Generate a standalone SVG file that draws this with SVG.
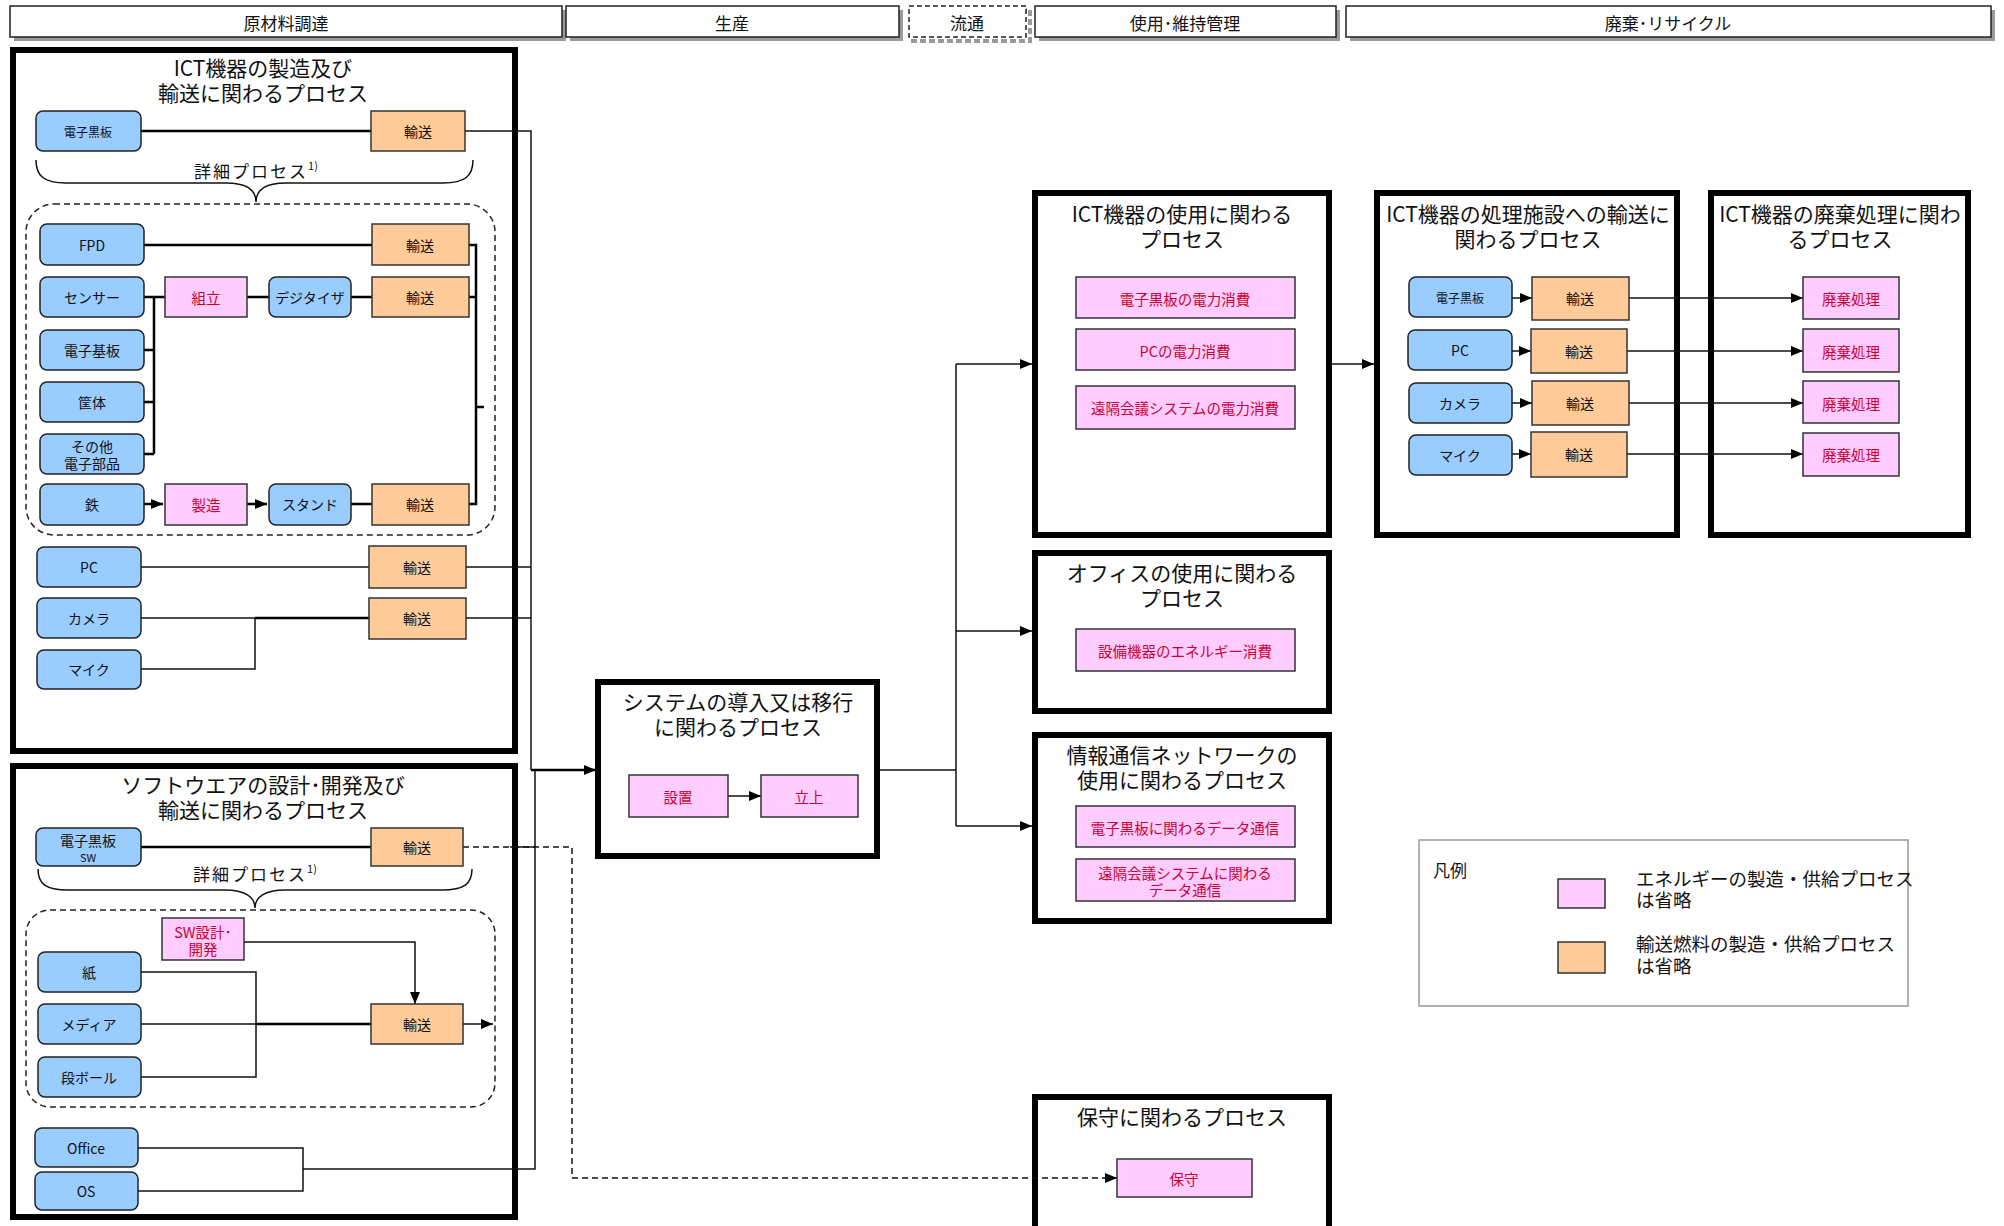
<svg xmlns="http://www.w3.org/2000/svg" width="2004" height="1226" viewBox="0 0 2004 1226">
<defs>
<style>
.t{font-family:"Noto Sans CJK JP","Noto Sans",sans-serif;text-anchor:middle;dominant-baseline:central;fill:#111}
.title{font-size:21px}
.hdrt{font-size:17px}
.lbl{font-size:14px}
.sm{font-size:12px}
.pt{font-size:14.5px;fill:#CC0033}
.lg{font-size:18.5px;text-anchor:start}
.brc{font-size:17px;letter-spacing:2px}
.blue{fill:#99CCFF;stroke:#222;stroke-width:1.5}
.orange{fill:#FFCC99;stroke:#333;stroke-width:1.5}
.pink{fill:#FFCCFF;stroke:#333;stroke-width:1.5}
.big{fill:#fff;stroke:#000;stroke-width:6}
.hdr{fill:#fff;stroke:#222;stroke-width:1.5}
.shd{fill:#9a9a9a}
.ln{stroke:#111;stroke-width:1.5;fill:none}
.lnb{stroke:#000;stroke-width:2.5;fill:none}
.dash{stroke-dasharray:6 4}
.cont{fill:none;stroke:#222;stroke-width:1.5;stroke-dasharray:6 4}
</style>
<marker id="arr" viewBox="0 0 12 10" refX="12" refY="5" markerWidth="12" markerHeight="10" markerUnits="userSpaceOnUse" orient="auto"><path d="M0,0 L12,5 L0,10 z" fill="#000"/></marker>
</defs>
<rect width="2004" height="1226" fill="#fff"/>

<!-- header -->
<g id="header">
<rect class="shd" x="14" y="10" width="552" height="31"/>
<rect class="hdr" x="10" y="6" width="552" height="31"/>
<text class="t hdrt" x="286" y="22">原材料調達</text>
<rect class="shd" x="570" y="10" width="333" height="31"/>
<rect class="hdr" x="566" y="6" width="333" height="31"/>
<text class="t hdrt" x="732" y="22">生産</text>
<rect x="913" y="10" width="117" height="31" fill="none" stroke="#9a9a9a" stroke-width="4" stroke-dasharray="6 3"/>
<rect class="hdr" x="909" y="6" width="117" height="31" stroke-dasharray="5 3"/>
<text class="t hdrt" x="967" y="22">流通</text>
<rect class="shd" x="1039" y="10" width="301" height="31"/>
<rect class="hdr" x="1035" y="6" width="301" height="31"/>
<text class="t hdrt" x="1185" y="22">使用･維持管理</text>
<rect class="shd" x="1350" y="10" width="645" height="31"/>
<rect class="hdr" x="1346" y="6" width="645" height="31"/>
<text class="t hdrt" x="1668" y="22">廃棄･リサイクル</text>
</g>

<!-- big boxes -->
<g id="box-ict-manufacture">
<rect class="big" x="13" y="50" width="502" height="701"/>
<text class="t title" x="263" y="67">ICT機器の製造及び</text>
<text class="t title" x="263" y="92">輸送に関わるプロセス</text>
<path class="ln" d="M36,160 C36,176 44,183 66,183 H226 C246,183 256,190 256,202 C256,190 266,183 286,183 H443 C465,183 473,176 473,160"/>
<text class="t brc" x="256" y="170">詳細プロセス<tspan font-size="11" letter-spacing="0" dy="-5">1)</tspan></text>
<rect class="cont" x="26" y="204" width="469" height="331" rx="28"/>
</g>
<g id="box-software">
<rect class="big" x="13" y="766" width="502" height="451"/>
<text class="t title" x="263" y="784">ソフトウエアの設計･開発及び</text>
<text class="t title" x="263" y="809">輸送に関わるプロセス</text>
<path class="ln" d="M38,869 C38,884 46,890 68,890 H225 C245,890 255,897 255,908 C255,897 265,890 285,890 H442 C464,890 472,884 472,869"/>
<text class="t brc" x="255" y="873">詳細プロセス<tspan font-size="11" letter-spacing="0" dy="-5">1)</tspan></text>
<rect class="cont" x="26" y="910" width="469" height="197" rx="24"/>
</g>
<g id="box-system">
<rect class="big" x="598" y="682" width="279" height="174"/>
<text class="t title" x="738" y="701">システムの導入又は移行</text>
<text class="t title" x="738" y="726">に関わるプロセス</text>
</g>
<g id="box-ict-use">
<rect class="big" x="1035" y="193" width="294" height="342"/>
<text class="t title" x="1182" y="213">ICT機器の使用に関わる</text>
<text class="t title" x="1182" y="238">プロセス</text>
</g>
<g id="box-transport-disposal">
<rect class="big" x="1377" y="193" width="300" height="342"/>
<text class="t title" x="1528" y="213">ICT機器の処理施設への輸送に</text>
<text class="t title" x="1528" y="238">関わるプロセス</text>
</g>
<g id="box-disposal">
<rect class="big" x="1711" y="193" width="257" height="342"/>
<text class="t title" x="1840" y="213">ICT機器の廃棄処理に関わ</text>
<text class="t title" x="1840" y="238">るプロセス</text>
</g>
<g id="box-office">
<rect class="big" x="1035" y="553" width="294" height="158"/>
<text class="t title" x="1182" y="572">オフィスの使用に関わる</text>
<text class="t title" x="1182" y="597">プロセス</text>
</g>
<g id="box-network">
<rect class="big" x="1035" y="735" width="294" height="186"/>
<text class="t title" x="1182" y="754">情報通信ネットワークの</text>
<text class="t title" x="1182" y="779">使用に関わるプロセス</text>
</g>
<g id="box-maintenance">
<rect class="big" x="1035" y="1097" width="294" height="140"/>
<text class="t title" x="1182" y="1116">保守に関わるプロセス</text>
</g>

<!-- connectors -->
<g id="connectors">
<path class="lnb" d="M141,131 H371"/>
<path class="ln" d="M465,131 H531 V770"/>
<path class="lnb" d="M144,245 H372"/>
<path class="lnb" d="M144,297 H165 M247,297 H269 M351,297 H372"/>
<path class="lnb" d="M154,297 V454 M144,350 H154 M144,402 H154 M144,454 H154" stroke-width="2"/>
<path class="lnb" d="M144,504 H163" marker-end="url(#arr)"/>
<path class="lnb" d="M247,504 H267" marker-end="url(#arr)"/>
<path class="lnb" d="M351,504 H372"/>
<path class="lnb" stroke-width="2" d="M469,245 H476 V504 H469 M469,297 H476 M476,407 H484"/>
<path class="ln" d="M141,567 H369 M466,567 H531"/>
<path class="ln" d="M141,618 H255 M141,669 H255 V618"/>
<path class="lnb" d="M255,618 H369"/>
<path class="ln" d="M466,618 H531"/>

<path class="lnb" d="M141,847 H371"/>
<path class="ln dash" d="M463,847 H572 V1178 H1117" marker-end="url(#arr)"/>
<path class="ln" d="M510,847 H535"/>
<path class="ln" d="M141,972 H256 V1077 H141 M141,1024 H256"/>
<path class="lnb" d="M256,1024 H371"/>
<path class="ln" d="M463,1024 H493" marker-end="url(#arr)"/>
<path class="ln" d="M244,942 H415 V1004" marker-end="url(#arr)"/>
<path class="ln" d="M138,1148 H303 V1191 H138 M303,1169 H535 V770"/>
<path class="lnb" stroke-width="2" d="M531,770 H596" marker-end="url(#arr)"/>

<path class="ln" d="M728,796 H761" marker-end="url(#arr)"/>
<path class="ln" d="M880,770 H956 M956,364 V826"/>
<path class="ln" d="M956,364 H1032" marker-end="url(#arr)"/>
<path class="ln" d="M956,631 H1032" marker-end="url(#arr)"/>
<path class="ln" d="M956,826 H1032" marker-end="url(#arr)"/>
<path class="ln" d="M1332,364 H1374" marker-end="url(#arr)"/>

<path class="ln" d="M1512,298 H1532" marker-end="url(#arr)"/>
<path class="ln" d="M1512,351 H1531" marker-end="url(#arr)"/>
<path class="ln" d="M1512,403 H1532" marker-end="url(#arr)"/>
<path class="ln" d="M1512,454 H1531" marker-end="url(#arr)"/>
<path class="ln" d="M1629,298 H1803" marker-end="url(#arr)"/>
<path class="ln" d="M1627,351 H1803" marker-end="url(#arr)"/>
<path class="ln" d="M1629,403 H1803" marker-end="url(#arr)"/>
<path class="ln" d="M1627,454 H1803" marker-end="url(#arr)"/>
</g>

<!-- nodes: box 1 -->
<g id="n-ewb1"><rect class="blue" x="36" y="111" width="105" height="40" rx="7"/><text class="t sm" x="88" y="131">電子黒板</text></g>
<g id="n-tr1"><rect class="orange" x="371" y="111" width="94" height="40"/><text class="t lbl" x="418" y="131">輸送</text></g>
<g id="n-fpd"><rect class="blue" x="40" y="224" width="104" height="41" rx="7"/><text class="t lbl" x="92" y="245">FPD</text></g>
<g id="n-tr-fpd"><rect class="orange" x="372" y="224" width="97" height="41"/><text class="t lbl" x="420" y="245">輸送</text></g>
<g id="n-sensor"><rect class="blue" x="40" y="277" width="104" height="40" rx="7"/><text class="t lbl" x="92" y="297">センサー</text></g>
<g id="n-assy"><rect class="pink" x="165" y="277" width="82" height="40"/><text class="t pt" x="206" y="297">組立</text></g>
<g id="n-digi"><rect class="blue" x="269" y="277" width="82" height="40" rx="7"/><text class="t lbl" x="310" y="297">デジタイザ</text></g>
<g id="n-tr-digi"><rect class="orange" x="372" y="277" width="97" height="40"/><text class="t lbl" x="420" y="297">輸送</text></g>
<g id="n-pcb"><rect class="blue" x="40" y="330" width="104" height="40" rx="7"/><text class="t lbl" x="92" y="350">電子基板</text></g>
<g id="n-case"><rect class="blue" x="40" y="382" width="104" height="40" rx="7"/><text class="t lbl" x="92" y="402">筐体</text></g>
<g id="n-other"><rect class="blue" x="40" y="434" width="104" height="40" rx="7"/><text class="t lbl" x="92" y="446">その他</text><text class="t lbl" x="92" y="463">電子部品</text></g>
<g id="n-iron"><rect class="blue" x="40" y="484" width="104" height="41" rx="7"/><text class="t lbl" x="92" y="504">鉄</text></g>
<g id="n-mfg"><rect class="pink" x="165" y="484" width="82" height="41"/><text class="t pt" x="206" y="504">製造</text></g>
<g id="n-stand"><rect class="blue" x="269" y="484" width="82" height="41" rx="7"/><text class="t lbl" x="310" y="504">スタンド</text></g>
<g id="n-tr-stand"><rect class="orange" x="372" y="484" width="97" height="41"/><text class="t lbl" x="420" y="504">輸送</text></g>
<g id="n-pc1"><rect class="blue" x="37" y="547" width="104" height="40" rx="7"/><text class="t lbl" x="89" y="567">PC</text></g>
<g id="n-tr-pc1"><rect class="orange" x="369" y="546" width="97" height="42"/><text class="t lbl" x="417" y="567">輸送</text></g>
<g id="n-cam1"><rect class="blue" x="37" y="598" width="104" height="40" rx="7"/><text class="t lbl" x="89" y="618">カメラ</text></g>
<g id="n-tr-cam1"><rect class="orange" x="369" y="598" width="97" height="41"/><text class="t lbl" x="417" y="618">輸送</text></g>
<g id="n-mic1"><rect class="blue" x="37" y="650" width="104" height="39" rx="7"/><text class="t lbl" x="89" y="669">マイク</text></g>

<!-- nodes: box 2 -->
<g id="n-ewbsw"><rect class="blue" x="36" y="828" width="105" height="38" rx="7"/><text class="t lbl" x="88" y="840">電子黒板</text><text class="t" x="88" y="857" font-size="11">SW</text></g>
<g id="n-tr-sw"><rect class="orange" x="371" y="828" width="92" height="38"/><text class="t lbl" x="417" y="847">輸送</text></g>
<g id="n-swdev"><rect class="pink" x="162" y="918" width="82" height="42"/><text class="t pt" x="203" y="931" font-size="13">SW設計･</text><text class="t pt" x="203" y="948" font-size="13">開発</text></g>
<g id="n-paper"><rect class="blue" x="38" y="952" width="103" height="40" rx="7"/><text class="t lbl" x="89" y="972">紙</text></g>
<g id="n-media"><rect class="blue" x="38" y="1004" width="103" height="40" rx="7"/><text class="t lbl" x="89" y="1024">メディア</text></g>
<g id="n-cardboard"><rect class="blue" x="38" y="1057" width="103" height="40" rx="7"/><text class="t lbl" x="89" y="1077">段ボール</text></g>
<g id="n-tr-media"><rect class="orange" x="371" y="1004" width="92" height="40"/><text class="t lbl" x="417" y="1024">輸送</text></g>
<g id="n-office"><rect class="blue" x="35" y="1128" width="103" height="39" rx="7"/><text class="t lbl" x="86" y="1148">Office</text></g>
<g id="n-os"><rect class="blue" x="35" y="1172" width="103" height="38" rx="7"/><text class="t lbl" x="86" y="1191">OS</text></g>

<!-- nodes: system -->
<g id="n-install"><rect class="pink" x="629" y="775" width="99" height="42"/><text class="t pt" x="678" y="796">設置</text></g>
<g id="n-startup"><rect class="pink" x="761" y="775" width="97" height="42"/><text class="t pt" x="809" y="796">立上</text></g>

<!-- nodes: use -->
<g id="n-use1"><rect class="pink" x="1076" y="277" width="219" height="41"/><text class="t pt" x="1185" y="298">電子黒板の電力消費</text></g>
<g id="n-use2"><rect class="pink" x="1076" y="329" width="219" height="41"/><text class="t pt" x="1185" y="350">PCの電力消費</text></g>
<g id="n-use3"><rect class="pink" x="1076" y="386" width="219" height="43"/><text class="t pt" x="1185" y="407">遠隔会議システムの電力消費</text></g>
<g id="n-office-use"><rect class="pink" x="1076" y="629" width="219" height="42"/><text class="t pt" x="1185" y="650">設備機器のエネルギー消費</text></g>
<g id="n-net1"><rect class="pink" x="1076" y="806" width="219" height="41"/><text class="t pt" x="1185" y="827">電子黒板に関わるデータ通信</text></g>
<g id="n-net2"><rect class="pink" x="1076" y="859" width="219" height="42"/><text class="t pt" x="1185" y="872">遠隔会議システムに関わる</text><text class="t pt" x="1185" y="889">データ通信</text></g>
<g id="n-maint"><rect class="pink" x="1117" y="1159" width="135" height="38"/><text class="t pt" x="1184" y="1178">保守</text></g>

<!-- nodes: transport to disposal -->
<g id="n-ewb3"><rect class="blue" x="1409" y="277" width="103" height="40" rx="7"/><text class="t sm" x="1460" y="297">電子黒板</text></g>
<g id="n-pc3"><rect class="blue" x="1408" y="330" width="104" height="40" rx="7"/><text class="t lbl" x="1460" y="350">PC</text></g>
<g id="n-cam3"><rect class="blue" x="1409" y="383" width="103" height="40" rx="7"/><text class="t lbl" x="1460" y="403">カメラ</text></g>
<g id="n-mic3"><rect class="blue" x="1409" y="435" width="103" height="40" rx="7"/><text class="t lbl" x="1460" y="455">マイク</text></g>
<g id="n-tr3a"><rect class="orange" x="1532" y="277" width="97" height="43"/><text class="t lbl" x="1580" y="298">輸送</text></g>
<g id="n-tr3b"><rect class="orange" x="1531" y="329" width="96" height="44"/><text class="t lbl" x="1579" y="351">輸送</text></g>
<g id="n-tr3c"><rect class="orange" x="1532" y="381" width="97" height="44"/><text class="t lbl" x="1580" y="403">輸送</text></g>
<g id="n-tr3d"><rect class="orange" x="1531" y="432" width="96" height="45"/><text class="t lbl" x="1579" y="454">輸送</text></g>
<g id="n-dis1"><rect class="pink" x="1803" y="277" width="96" height="42"/><text class="t pt" x="1851" y="298">廃棄処理</text></g>
<g id="n-dis2"><rect class="pink" x="1803" y="329" width="96" height="43"/><text class="t pt" x="1851" y="351">廃棄処理</text></g>
<g id="n-dis3"><rect class="pink" x="1803" y="381" width="96" height="42"/><text class="t pt" x="1851" y="403">廃棄処理</text></g>
<g id="n-dis4"><rect class="pink" x="1803" y="433" width="96" height="43"/><text class="t pt" x="1851" y="454">廃棄処理</text></g>

<!-- legend -->
<g id="legend">
<rect x="1419" y="840" width="489" height="166" fill="#fff" stroke="#999" stroke-width="1.5"/>
<text class="t" x="1450" y="869" font-size="17">凡例</text>
<rect class="pink" x="1558" y="879" width="47" height="29"/>
<rect class="orange" x="1558" y="942" width="47" height="31"/>
<text class="t lg" x="1636" y="878">エネルギーの製造・供給プロセス</text>
<text class="t lg" x="1636" y="899">は省略</text>
<text class="t lg" x="1636" y="943">輸送燃料の製造・供給プロセス</text>
<text class="t lg" x="1636" y="965">は省略</text>
</g>
</svg>
